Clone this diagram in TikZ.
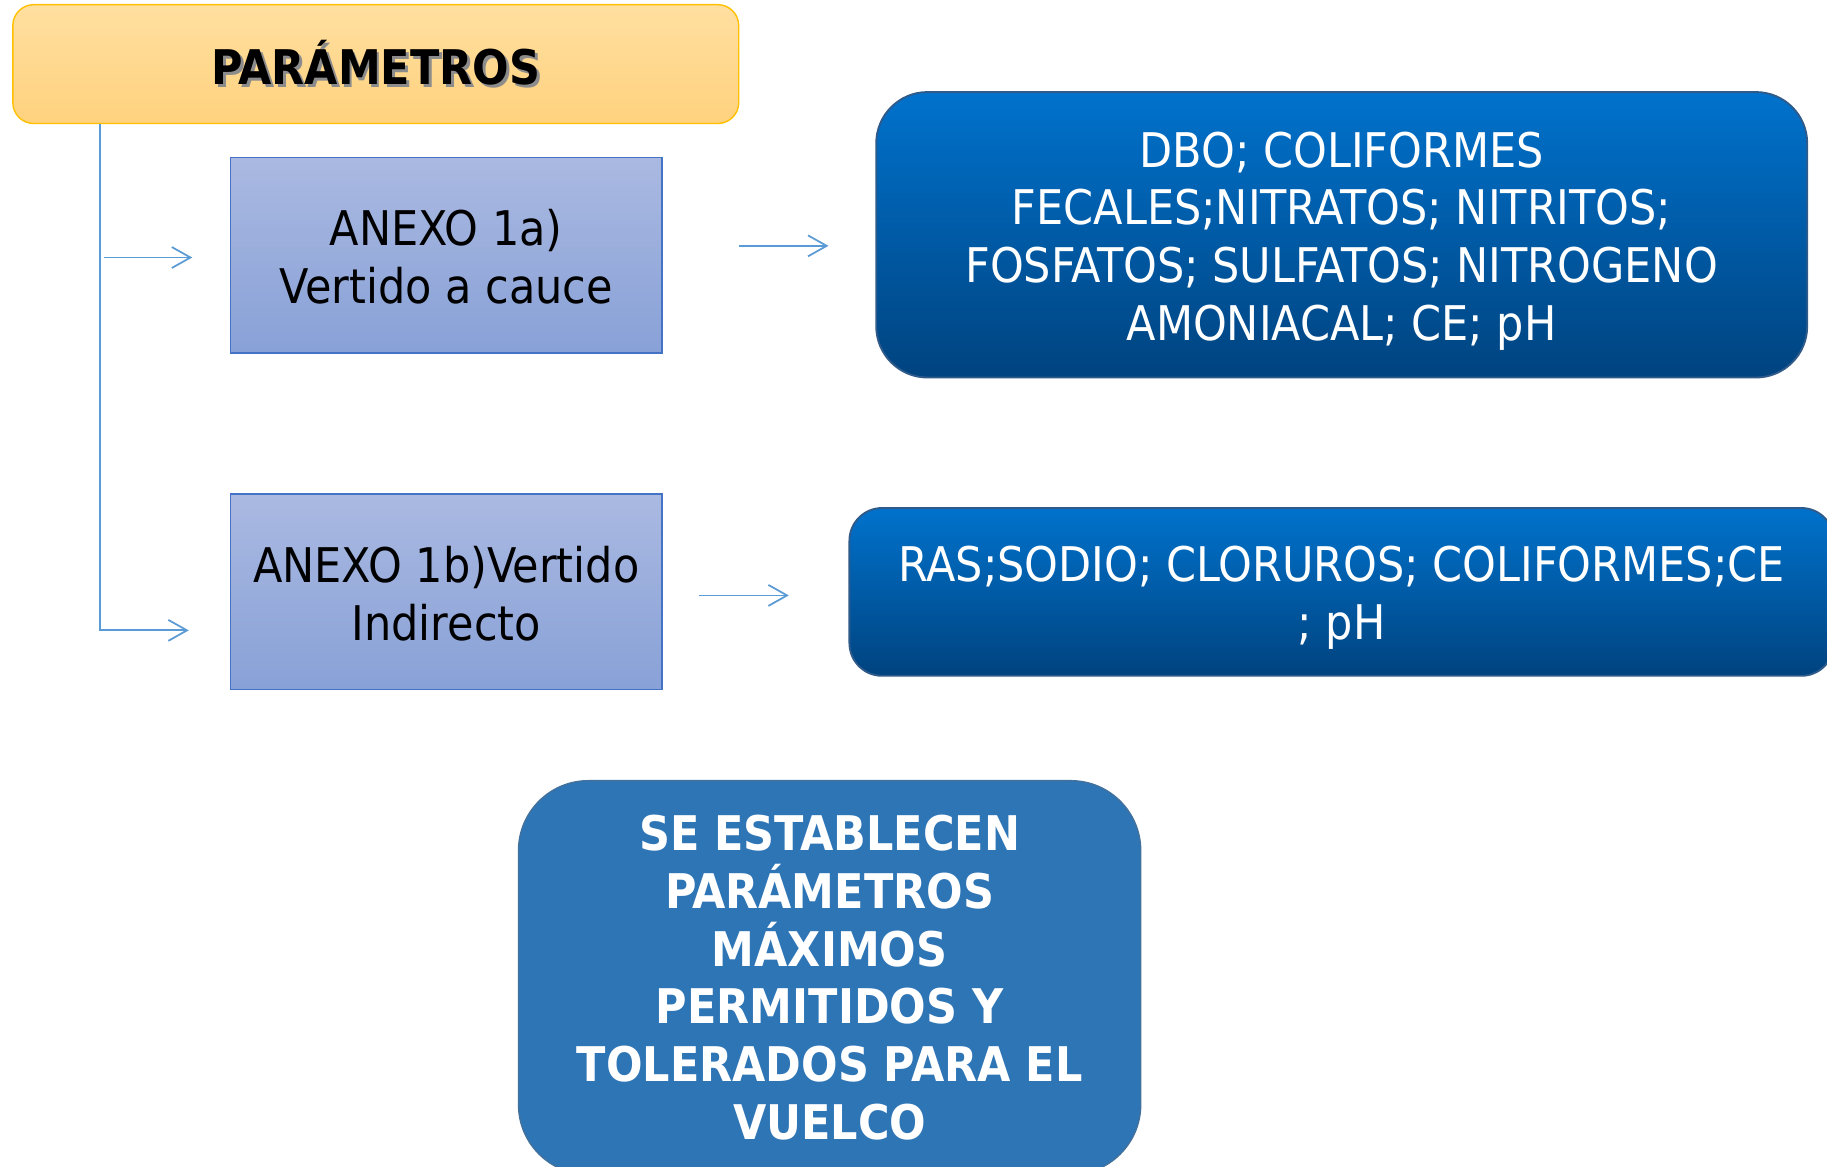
\documentclass[tikz,border=0pt]{standalone}
\usepackage{fontspec}
\setmainfont{DejaVu Sans Condensed}
\usetikzlibrary{arrows.meta}
\definecolor{orTop}{HTML}{FFDFA0}
\definecolor{orBot}{HTML}{FFD27E}
\definecolor{orEdge}{HTML}{FFC000}
\definecolor{lvTop}{HTML}{AAB9E1}
\definecolor{lvBot}{HTML}{88A1D7}
\definecolor{lvEdge}{HTML}{4472C4}
\definecolor{dbTop}{HTML}{0072CC}
\definecolor{dbBot}{HTML}{00437F}
\definecolor{dbEdge}{HTML}{2F5A8A}
\definecolor{mbFill}{HTML}{2E75B6}
\definecolor{mbEdge}{HTML}{41719C}
\definecolor{lnk}{HTML}{5B9BD5}
\begin{document}
\begin{tikzpicture}[x=0.5pt,y=-0.5pt,
  txt/.style={font=\fontsize{20.5pt}{24.75pt}\selectfont, align=center, inner sep=0pt},
  titlebox/.style={txt, draw=orEdge, line width=0.6pt, top color=orTop, bottom color=orBot,
    rounded corners=9pt, minimum width=311.5pt, minimum height=51pt},
  anexbox/.style={txt, draw=lvEdge, line width=0.6pt, top color=lvTop, bottom color=lvBot,
    minimum width=185pt, minimum height=84pt},
  darkbox/.style={txt, draw=dbEdge, line width=0.8pt, top color=dbTop, bottom color=dbBot,
    text=white},
  midbox/.style={txt, draw=mbEdge, line width=0.6pt, fill=mbFill, text=white,
    font=\fontsize{20.5pt}{24.75pt}\selectfont\bfseries},
  link/.style={draw=lnk, line width=0.75pt},
  arrowlink/.style={link, -{Straight Barb[length=8pt,width=9pt,line width=0.75pt]}}
]
\useasboundingbox (0,0) rectangle (1568,1001);
\fill[white] (0,0) rectangle (1568,1001);

% nodes
\node[titlebox] (par) at (322.5,55)
  {\bfseries\makebox[0pt][l]{\raisebox{-1pt}{\hspace{1.2pt}\color{black!45}PARÁMETROS}}PARÁMETROS};
\node[anexbox] (anexA) at (383,219) {\rule{0pt}{17pt}ANEXO 1a)\\Vertido a cauce};
\node[anexbox] (anexB) at (383,508) {\rule{0pt}{17pt}ANEXO 1b)Vertido\\Indirecto};
\node[darkbox, rounded corners=22pt, minimum width=399.5pt, minimum height=122.5pt] (dbo) at (1151.5,201.5)
  {\rule{0pt}{20.5pt}DBO; COLIFORMES\\FECALES;NITRATOS; NITRITOS;\\FOSFATOS; SULFATOS; NITROGENO\\AMONIACAL; CE; pH};
\node[darkbox, rounded corners=14pt, minimum width=422.5pt, minimum height=72pt] (ras) at (1151.5,508)
  {\rule{0pt}{20.5pt}RAS;SODIO; CLORUROS; COLIFORMES;CE\\; pH};
\node[midbox, rounded corners=30pt, minimum width=267pt, minimum height=169pt] (est) at (712,839)
  {SE ESTABLECEN\\PARÁMETROS\\MÁXIMOS\\PERMITIDOS Y\\TOLERADOS PARA EL\\VUELCO};

% connector end points
\coordinate (t0) at (par.south -| 86,0);
\coordinate (e2) at (162,541);
\coordinate (s1) at (89,221);
\coordinate (e1) at (165,221);
\coordinate (s3) at (634,211);
\coordinate (e3) at (711,211);
\coordinate (s4) at (600,511);
\coordinate (e4) at (677,511);

% connectors
\draw[arrowlink] (t0) |- (e2);
\draw[arrowlink] (s1) -- (e1);
\draw[arrowlink] (s3) -- (e3);
\draw[arrowlink] (s4) -- (e4);
\end{tikzpicture}
\end{document}
